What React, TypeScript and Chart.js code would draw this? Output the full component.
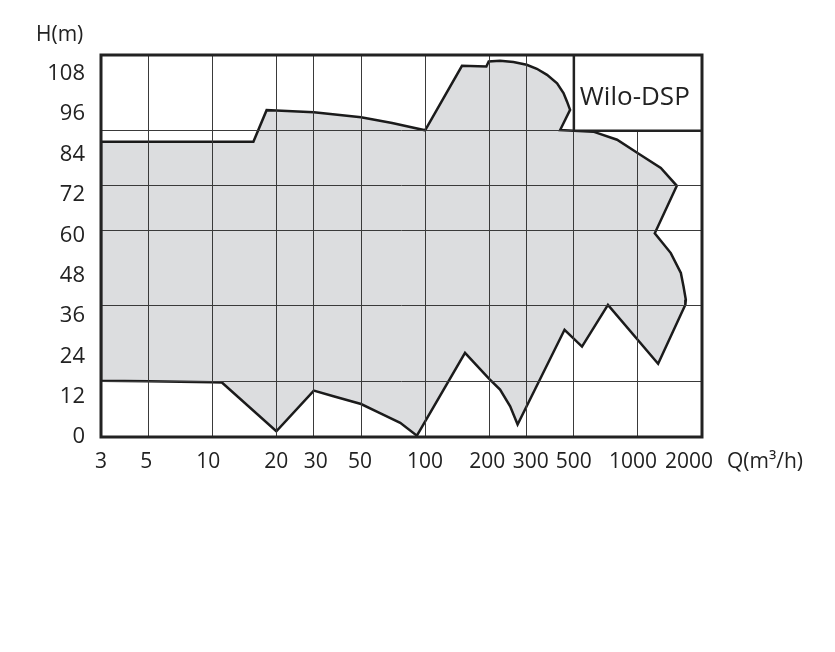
import React, { useEffect, useRef } from "react";
import { Chart, registerables } from "chart.js";

Chart.register(...registerables);

// Boundary of the Wilo-DSP operating field (flow Q in m³/h, head H in m), traced clockwise
const boundaryQ = [3, 15.6, 18, 20, 30, 50, 70, 100, 149, 194, 199, 225, 260, 300, 335, 374, 417, 447, 464, 480, 431, 500, 617, 798, 1000, 1281, 1523, 1200, 1427, 1591, 1637, 1679, 1670, 1244, 723, 546, 452, 272, 251, 225, 200, 154, 91.5, 76.4, 60, 50, 37.1, 30, 20, 11.1, 10, 5, 3, 3];
const boundaryH = [87.8, 87.8, 97.2, 97.1, 96.6, 95.1, 93.4, 91.2, 110.4, 110.2, 111.7, 111.9, 111.5, 110.7, 109.5, 107.7, 105.2, 102.3, 99.8, 97.3, 91.3, 91.1, 90.8, 88.4, 84.4, 80.0, 74.7, 60.6, 54.7, 48.8, 44.8, 40.8, 39.3, 21.8, 39.3, 26.9, 31.9, 3.7, 9.1, 14.1, 17.3, 25.0, 0.4, 4.2, 7.4, 9.8, 12.1, 13.8, 1.7, 16.2, 16.3, 16.6, 16.7, 87.8];

const xTickValues = [3, 5, 10, 20, 30, 50, 100, 200, 300, 500, 1000, 2000];
const xTickLabels = ["3", "5", "10", "20", "30", "50", "100", "200", "300", "500", "1000", "2000"];
const yTickValues = [0, 12, 24, 36, 48, 60, 72, 84, 96, 108];
const yGridValues = [16.5, 39, 61.5, 74.7, 91.1];

const xMin = 3;
const xMax = 2000;
const yMin = 0;
const yMax = 113.6;

const boxQ = 500;
const boxH = 91.1;
const boxLabel = "Wilo-DSP";
const xTitle = "Q(m³/h)";
const yTitle = "H(m)";

// small horizontal nudges of the x tick labels (px), as typeset in the original sheet
const xLabelNudge = [0, -2, -4, 0, 2, -1, 0, -2, 4, 0, -5, -13];

const FONT = '"Open Sans", "Noto Sans", sans-serif';
const TEXT = "#222";
const GRID = "#3a3a3a";

const decor = {
  id: "decor",
  afterDraw(chart: any) {
    const { ctx, chartArea: a, scales } = chart;
    const x = scales.x;
    const y = scales.y;
    ctx.save();
    // label box
    const bx = x.getPixelForValue(boxQ);
    const by = y.getPixelForValue(boxH);
    ctx.fillStyle = "#fff";
    ctx.fillRect(bx, a.top, a.right - bx, by - a.top);
    ctx.strokeStyle = TEXT;
    ctx.lineWidth = 2.5;
    ctx.beginPath();
    ctx.moveTo(bx, a.top);
    ctx.lineTo(bx, by);
    ctx.lineTo(a.right, by);
    ctx.stroke();
    ctx.fillStyle = TEXT;
    ctx.font = `26px ${FONT}`;
    ctx.textAlign = "left";
    ctx.textBaseline = "alphabetic";
    ctx.fillText(boxLabel, bx + 6, (a.top + by) / 2 + 12);

    // x tick labels
    ctx.font = `21px ${FONT}`;
    ctx.textAlign = "center";
    xTickValues.forEach((v, i) => {
      const px = x.getPixelForValue(v) + (xLabelNudge[i] || 0);
      ctx.fillText(xTickLabels[i], px, a.bottom + 31);
    });
    // axis titles
    ctx.textAlign = "left";
    ctx.fillText(xTitle, a.right + 25, a.bottom + 31);
    ctx.fillText(yTitle, 36, a.top - 14);

    // plot frame
    ctx.lineWidth = 3;
    ctx.strokeStyle = TEXT;
    ctx.strokeRect(a.left, a.top, a.right - a.left, a.bottom - a.top);
    ctx.restore();
  },
};

export default function App() {
  const ref = useRef<HTMLCanvasElement>(null);
  useEffect(() => {
    if (!ref.current) return;
    const data = boundaryQ.map((q, i) => ({ x: q, y: boundaryH[i] }));
    const chart = new Chart(ref.current, {
      type: "line",
      data: {
        datasets: [
          {
            data,
            borderColor: "#1b1b1b",
            borderWidth: 2.5,
            backgroundColor: "#dcdddf",
            fill: "shape",
            pointRadius: 0,
            tension: 0,
            borderJoinStyle: "miter",
          } as any,
        ],
      },
      options: {
        responsive: false,
        animation: false,
        devicePixelRatio: 1,
        layout: {
          autoPadding: false,
          padding: { left: 0, right: 133, top: 55, bottom: 175 },
        },
        plugins: {
          legend: { display: false },
          tooltip: { enabled: false },
        },
        scales: {
          x: {
            type: "logarithmic",
            min: xMin,
            max: xMax,
            afterBuildTicks: (s: any) => {
              s.ticks = xTickValues.map((v) => ({ value: v }));
            },
            afterFit: (s: any) => {
              s.height = 40;
              s.paddingLeft = 0;
              s.paddingRight = 0;
            },
            ticks: { display: false, autoSkip: false },
            grid: { color: GRID, lineWidth: 1, drawTicks: false, z: 1 },
            border: { display: false },
          },
          y: {
            type: "linear",
            position: "left",
            min: yMin,
            max: yMax,
            afterBuildTicks: (s: any) => {
              s.ticks = yTickValues.map((v) => ({ value: v }));
            },
            afterFit: (s: any) => {
              s.width = 101;
              s.paddingTop = 0;
              s.paddingBottom = 0;
            },
            ticks: {
              autoSkip: false,
              padding: 16,
              color: TEXT,
              font: { family: FONT, size: 22 },
              callback: (v: any) => String(v),
            },
            grid: { display: false, drawTicks: false },
            border: { display: false },
          },
          yg: {
            type: "linear",
            position: "left",
            min: yMin,
            max: yMax,
            afterBuildTicks: (s: any) => {
              s.ticks = yGridValues.map((v) => ({ value: v }));
            },
            afterFit: (s: any) => {
              s.width = 0;
              s.paddingTop = 0;
              s.paddingBottom = 0;
            },
            ticks: { display: false },
            grid: { color: GRID, lineWidth: 1, drawTicks: false, z: 1 },
            border: { display: false },
          },
        },
      } as any,
      plugins: [decor],
    });
    return () => chart.destroy();
  }, []);
  return (
    <div style={{ position: "absolute", left: 0, top: 0, width: 835, height: 652, background: "#fff" }}>
      <canvas ref={ref} width={835} height={652} style={{ display: "block", width: 835, height: 652 }} />
    </div>
  );
}
